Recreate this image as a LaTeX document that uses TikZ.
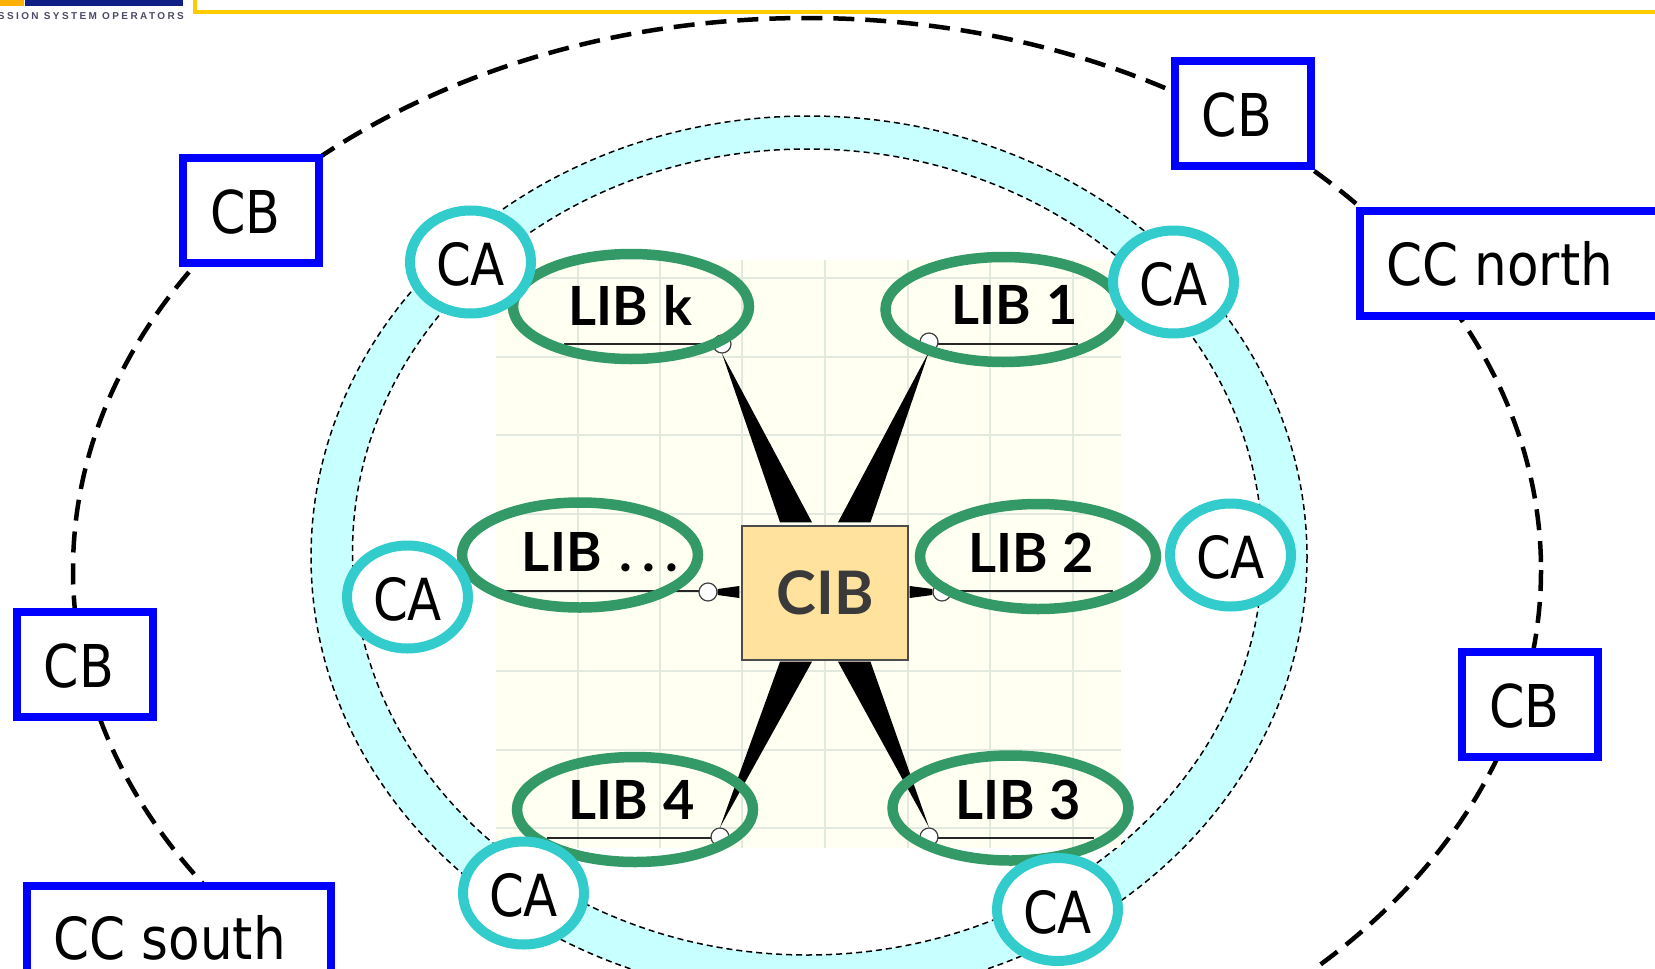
\documentclass[tikz,border=0pt]{standalone}
\usepackage{fontspec}
\usetikzlibrary{shapes.geometric,calc}
\setmainfont[FakeStretch=0.86]{DejaVu Sans}
\newfontfamily\ccfont[FakeStretch=0.89]{DejaVu Sans}
\newfontfamily\libfont{Lato Bold}
\newfontfamily\logofont[LetterSpace=24]{Liberation Sans Bold}
\definecolor{ringfill}{HTML}{C8FFFF}
\definecolor{gridbg}{HTML}{FFFFF2}
\definecolor{gridline}{HTML}{E2EADF}
\definecolor{cibfill}{HTML}{FFE29E}
\definecolor{cibtext}{HTML}{3A3A3A}
\definecolor{libgreen}{HTML}{339966}
\definecolor{cacyan}{HTML}{33CCCC}
\definecolor{framey}{HTML}{FFCC00}
\definecolor{lognavy}{HTML}{0F1F85}
\definecolor{logoorange}{HTML}{FFB000}
\definecolor{logotext}{HTML}{4A4A66}
\newcommand{\libsp}{\hspace{15pt}}
\newcommand{\lowr}{\rule{0pt}{48pt}}
\tikzset{
 cbbox/.style={draw=blue,fill=white,line width=8pt,minimum width=136pt,minimum height=105pt,inner sep=0pt,font=\fontsize{59}{59}\selectfont},
 ccbox/.style={draw=blue,fill=white,line width=8pt,minimum height=105pt,inner sep=0pt},
 caell/.style={ellipse,draw=cacyan,fill=white,line width=10pt,minimum width=121pt,minimum height=103pt,inner sep=0pt,font=\fontsize{58}{58}\selectfont},
 libell/.style={ellipse,draw=libgreen,line width=10.5pt,minimum width=236pt,minimum height=105pt,inner sep=0pt},
 libtext/.style={font=\libfont\fontsize{54}{54}\selectfont,inner sep=0pt},
 knob/.style={circle,draw=black!75,fill=white,line width=1.2pt,minimum size=18pt,inner sep=0pt},
 wedge/.style={fill=black},
 underl/.style={draw=black!85,line width=1.4pt},
 ringline/.style={draw=black,line width=1.5pt,dash pattern=on 6pt off 4pt},
 outerdash/.style={draw=black,line width=4.5pt,dash pattern=on 21pt off 11pt}
}
\begin{document}
\begin{tikzpicture}[x=1pt,y=-1pt]
\useasboundingbox (0,0) rectangle (1655,969);
\clip (0,0) rectangle (1655,969);
% logo and frame
\fill[logoorange] (0,0) rectangle (24,6);
\fill[lognavy] (25,0) rectangle (183,6);
\node[anchor=east,inner sep=0pt,text=logotext,font=\logofont\fontsize{10}{10}\selectfont] (logotxt) at (184,16.5) {ISSION SYSTEM OPERATORS};
\draw[framey,line width=4pt] (195,-5) -- (195,12) -- (1665,12);
% outer dashed ellipse
\draw[outerdash] (807,570) ellipse [x radius=734,y radius=552];
% ring
\fill[ringfill,even odd rule] (809,557) ellipse [x radius=498,y radius=441] (807.5,552) ellipse [x radius=455,y radius=403];
\draw[ringline] (809,557) ellipse [x radius=498,y radius=441];
\draw[ringline] (807.5,552) ellipse [x radius=455,y radius=403];
% grid panel
\fill[gridbg] (496,260) rectangle (1121,848);
\foreach \gy in {278,357,435,514,592,671,750,828} \draw[gridline,line width=2.4pt] (496,\gy) -- (1121,\gy);
\foreach \gx in {578,660,742,825,908,990,1073} \draw[gridline,line width=2.4pt] (\gx,260) -- (\gx,848);
% CIB
\node[draw=black!70,fill=cibfill,line width=1.4pt,minimum width=166pt,minimum height=134pt,inner sep=0pt,text=cibtext,font=\libfont\fontsize{60}{60}\selectfont] (cib) at (825,593) {CIB};
% knobs: coordinates first so that underlines lie beneath
\coordinate (pk) at (722,344);
\coordinate (p1) at (929,342);
\coordinate (pd) at (708,592);
\coordinate (p2) at (942,592);
\coordinate (p4) at (720,837);
\coordinate (p3) at (929,837);
% underlines
\coordinate (uk) at (564,344);
\coordinate (u1) at (1078,344);
\coordinate (ud) at (505,591);
\coordinate (u2) at (1113,591);
\coordinate (u4) at (547,838);
\coordinate (u3) at (1094,838);
\draw[underl] (uk) -- (pk |- uk);
\draw[underl] (u1) -- (p1 |- u1);
\draw[underl] (ud) -- (pd |- ud);
\draw[underl] (u2) -- (p2 |- u2);
\draw[underl] (u4) -- (p4 |- u4);
\draw[underl] (u3) -- (p3 |- u3);
\node[knob] (kk) at (pk) {};
\node[knob] (k1) at (p1) {};
\node[knob] (kd) at (pd) {};
\node[knob] (k2) at (p2) {};
\node[knob] (k4) at (p4) {};
\node[knob] (k3) at (p3) {};
% wedges
\fill[wedge] (kk.south) -- ($(cib.north)+(-45,-3)$) -- ($(cib.north)+(-13,-3)$) -- cycle;
\fill[wedge] (k1.south) -- ($(cib.north)+(13,-3)$) -- ($(cib.north)+(45.5,-3)$) -- cycle;
\fill[wedge] (k4.north) -- ($(cib.south)+(-45,1)$) -- ($(cib.south)+(-13,1)$) -- cycle;
\fill[wedge] (k3.north) -- ($(cib.south)+(13,1)$) -- ($(cib.south)+(45.5,1)$) -- cycle;
\fill[wedge] ($(kd.east)+(0,-3)$) -- ($(cib.west)+(-2,-7)$) -- ($(cib.west)+(-2,5)$) -- ($(kd.east)+(0,3)$) -- cycle;
\fill[wedge] ($(k2.west)+(0,-3)$) -- ($(cib.east)+(1,-7)$) -- ($(cib.east)+(1,5)$) -- ($(k2.west)+(0,3)$) -- cycle;
% LIB ellipses
\node[libell] (ek) at (631,306.5) {};
\node[libell] (e1) at (1003.5,309.5) {};
\node[libell] (ed) at (580,555) {};
\node[libell] (e2) at (1038,556.5) {};
\node[libell] (e4) at (635,809.5) {};
\node[libell] (e3) at (1010.5,808) {};
% LIB labels
\node[libtext] (tk) at (630.5,305) {LIB\libsp k};
\node[libtext] (t1) at (1014.5,305) {LIB\libsp 1};
\node[libtext] (td) at (600,552) {LIB\hspace{18pt}.\hspace{10pt}.\hspace{10pt}.};
\node[libtext] (t2) at (1031,553) {LIB\libsp 2};
\node[libtext] (t4) at (631.5,800) {LIB\libsp 4};
\node[libtext] (t3) at (1018,800) {LIB\libsp 3};
% CA
\node[caell] (ca1) at (470.5,262) {\lowr CA};
\node[caell] (ca2) at (1173.5,282) {\lowr CA};
\node[caell] (ca3) at (1230.5,555) {\lowr CA};
\node[caell] (ca4) at (407.5,597) {\lowr CA};
\node[caell] (ca5) at (523.5,893) {\lowr CA};
\node[caell] (ca6) at (1057.5,909.5) {\lowr CA};
% CB
\node[cbbox] (cb1) at (251,210) {\lowr CB\kern11pt};
\node[cbbox] (cb2) at (1242.5,113) {\lowr CB\kern11pt};
\node[cbbox] (cb3) at (1530,704) {\lowr CB\kern11pt};
\node[cbbox] (cb4) at (84.5,664) {\lowr CB\kern11pt};
% CC
\node[ccbox,minimum width=320pt,anchor=north west] (ccn) at (1356,207) {};
\node[anchor=west,inner sep=0pt,font=\ccfont\fontsize{58}{58}\selectfont] (ccnt) at (1386,264) {CC north};
\node[ccbox,minimum width=304pt,anchor=north west] (ccs) at (23,882) {};
\node[anchor=west,inner sep=0pt,font=\ccfont\fontsize{58}{58}\selectfont] (ccst) at (53,938) {CC south};
\end{tikzpicture}
\end{document}
